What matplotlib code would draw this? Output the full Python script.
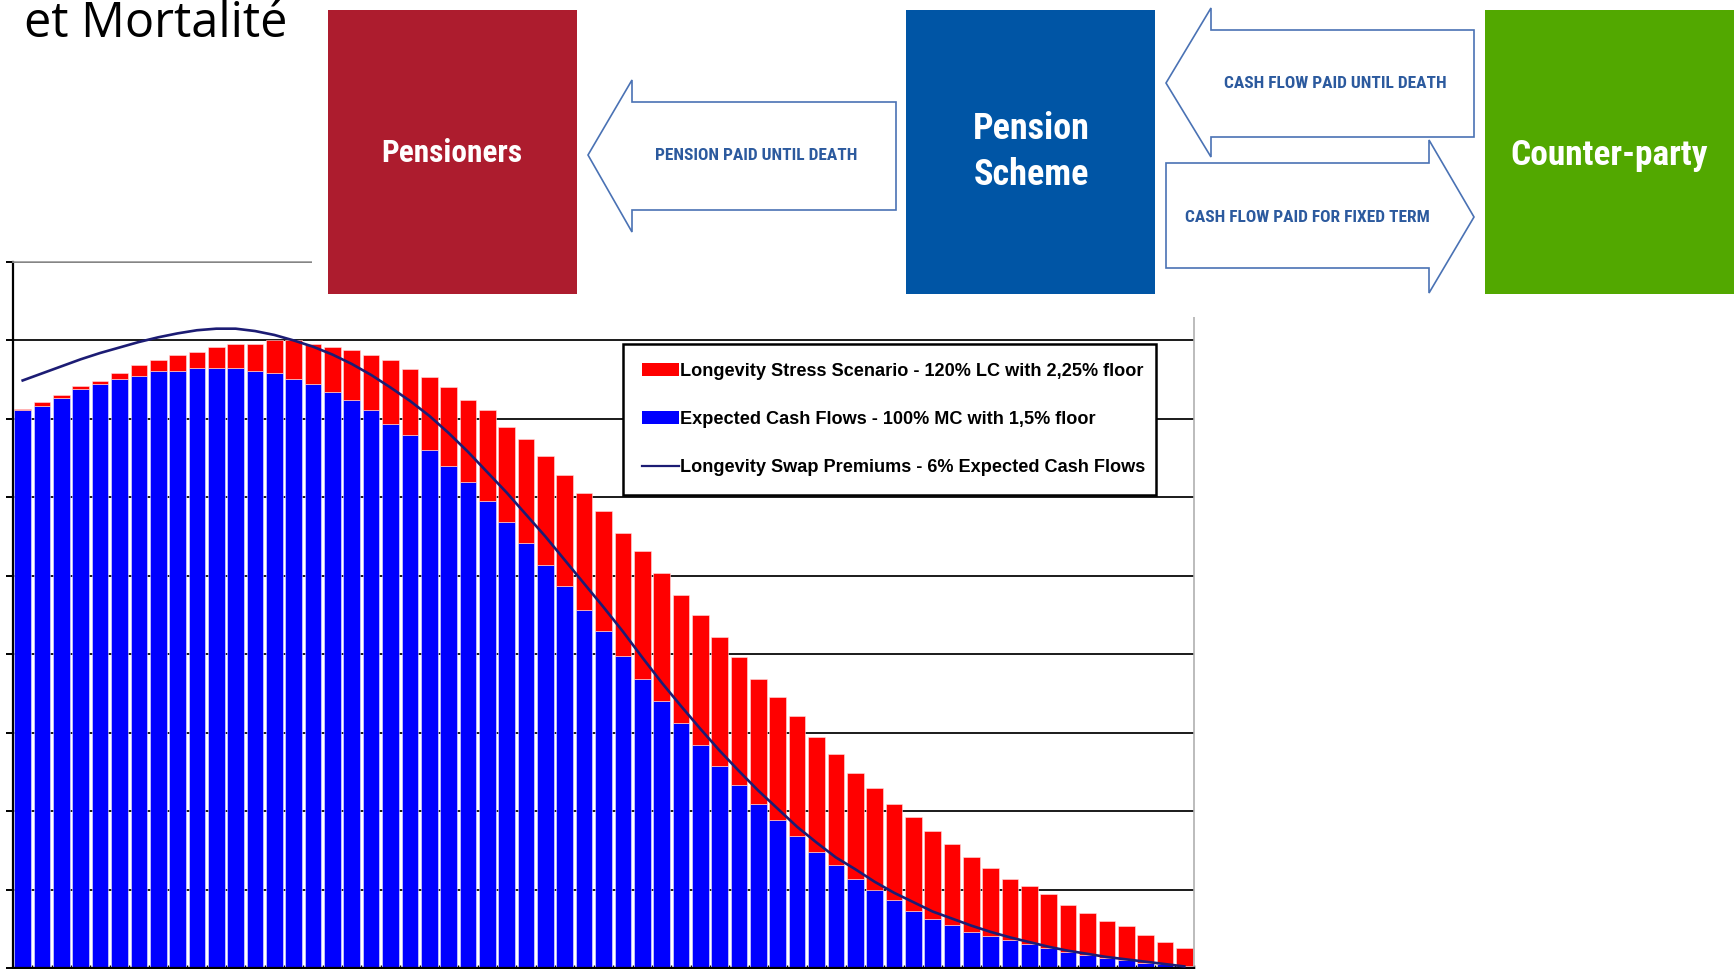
#import necessary packages
import numpy as np
import matplotlib
matplotlib.use('Agg')
import matplotlib.pyplot as plt
from matplotlib.patches import Rectangle, Polygon, Patch
from matplotlib.lines import Line2D
from matplotlib import font_manager as fm

#cash flow values (one bar per year, gridline = 10 units)
expected = [71.1, 71.7, 72.7, 73.8, 74.4, 75.1, 75.5, 76.1, 76.1, 76.5,
            76.5, 76.5, 76.1, 75.9, 75.1, 74.5, 73.4, 72.4, 71.1, 69.4,
            68.0, 66.0, 64.0, 61.9, 59.5, 56.8, 54.2, 51.4, 48.7, 45.6,
            42.9, 39.8, 36.9, 34.1, 31.2, 28.4, 25.7, 23.3, 20.9, 18.9,
            16.8, 14.8, 13.1, 11.4, 10.0, 8.7, 7.3, 6.2, 5.5, 4.6,
            4.1, 3.6, 3.1, 2.6, 2.1, 1.7, 1.3, 1.0, 0.7, 0.5, 0.3]
stress = [71.2, 72.1, 73.1, 74.2, 74.8, 75.9, 76.9, 77.5, 78.2, 78.5,
          79.2, 79.5, 79.5, 80.0, 80.0, 79.5, 79.2, 78.8, 78.2, 77.5,
          76.4, 75.4, 74.1, 72.4, 71.1, 69.0, 67.4, 65.3, 62.9, 60.6,
          58.2, 55.4, 53.1, 50.4, 47.6, 45.0, 42.2, 39.6, 36.9, 34.5,
          32.1, 29.4, 27.3, 24.9, 22.9, 20.9, 19.2, 17.5, 15.8, 14.1,
          12.8, 11.4, 10.4, 9.4, 8.0, 7.0, 6.0, 5.4, 4.2, 3.3, 2.6]
premiums = [74.9, 75.8, 76.7, 77.6, 78.4, 79.1, 79.8, 80.4, 80.9, 81.3,
            81.5, 81.5, 81.2, 80.7, 80.0, 79.2, 78.2, 77.0, 75.6, 74.0,
            72.3, 70.4, 68.2, 65.8, 63.2, 60.6, 57.8, 55.0, 52.0, 49.0,
            46.0, 42.9, 39.6, 36.4, 33.4, 30.5, 27.7, 25.1, 22.6, 20.3,
            18.0, 16.0, 14.1, 12.6, 11.0, 9.6, 8.4, 7.2, 6.3, 5.4,
            4.6, 3.9, 3.3, 2.7, 2.2, 1.8, 1.4, 1.1, 0.8, 0.5, 0.2]

labels = ['Longevity Stress Scenario - 120% LC with 2,25% floor',
          'Expected Cash Flows - 100% MC with 1,5% floor',
          'Longevity Swap Premiums - 6% Expected Cash Flows']

title_text = 'et Mortalité'
box_names = ['Pensioners', 'Pension\nScheme', 'Counter-party']
arrow_texts = ['PENSION PAID UNTIL DEATH', 'CASH FLOW PAID UNTIL DEATH',
               'CASH FLOW PAID FOR FIXED TERM']

#pick a narrow font if there is one
names = {f.name for f in fm.fontManager.ttflist}
narrow = 'Liberation Sans'
shrink = 0.82
for cand in ['Roboto Condensed', 'Liberation Sans Narrow', 'DejaVu Sans Condensed']:
    if cand in names:
        narrow = cand
        shrink = 1.0
        break

W, H = 1734, 969
fig = plt.figure(figsize=(W / 100, H / 100), dpi=100)
fig.patch.set_facecolor('white')

#the bar chart
ax = fig.add_axes([13 / W, 1 / H, (1194 - 13) / W, (968 - 262) / H])
x = np.arange(len(expected))
red_part = np.array(stress) - np.array(expected)
ax.bar(x, expected, width=0.86, color='#0000ff', edgecolor='#e8e8ff', linewidth=0.4, zorder=2)
ax.bar(x, red_part, bottom=expected, width=0.86, color='#ff0000', edgecolor='#ffe0e0', linewidth=0.4, zorder=2)
ax.plot(x, premiums, '-', color='#1c1c74', linewidth=1.9, zorder=3)

ax.set_xlim(-0.5, len(expected) - 0.5)
ax.set_ylim(0, 90)
ax.set_yticks(np.arange(0, 91, 10))
ax.set_yticklabels([])
ax.set_xticks(np.arange(len(expected) + 1) - 0.5)
ax.set_xticklabels([])
ax.tick_params(axis='y', direction='out', length=5, width=1.4, color='black')
ax.tick_params(axis='x', direction='inout', length=5, width=1.0, color='black')
ax.set_axisbelow(True)
ax.grid(axis='y', color='#1a1a1a', linewidth=1.4)
ax.spines['left'].set_linewidth(1.6)
ax.spines['left'].set_color('black')
ax.spines['bottom'].set_linewidth(1.6)
ax.spines['top'].set_color('#9a9a9a')
ax.spines['top'].set_linewidth(1.2)
ax.spines['right'].set_color('#b0b0b0')
ax.spines['right'].set_linewidth(1.2)

handles = [Patch(facecolor='#ff0000', edgecolor='none'),
           Patch(facecolor='#0000ff', edgecolor='none'),
           Line2D([0], [0], color='#1c1c74', linewidth=1.6)]
leg = ax.legend(handles, labels, loc='upper left',
                bbox_to_anchor=(623 / W, 1 - 493 / H, 533 / W, 149 / H),
                bbox_transform=fig.transFigure, mode='expand',
                prop={'family': 'Liberation Sans', 'weight': 'bold', 'size': 13.1},
                handlelength=2.05, handletextpad=0.05, labelspacing=1.7,
                borderpad=1.05, borderaxespad=0, fancybox=False, framealpha=1)
leg.get_frame().set_edgecolor('black')
leg.get_frame().set_linewidth(1.8)

#diagram on top, in pixel coordinates
top = fig.add_axes([0, 0, 1, 1], zorder=5)
top.set_xlim(0, W)
top.set_ylim(H, 0)
top.axis('off')
top.patch.set_visible(False)

#white background of the diagram hides the top of the chart
top.add_patch(Rectangle((312, 0), W - 312, 317, facecolor='white', edgecolor='none'))

top.text(24, 37, title_text, family='Open Sans', fontsize=35, va='baseline', ha='left', color='black')

boxes = [(328, 577, '#ad1c2e'), (906, 1155, '#0055a5'), (1485, 1734, '#52a800')]
for (x0, x1, c), name in zip(boxes, box_names):
    top.add_patch(Rectangle((x0, 10), x1 - x0, 284, facecolor=c, edgecolor='none'))

top.text(452, 153, box_names[0], family=narrow, weight='bold', fontsize=22.5 * shrink,
         color='white', ha='center', va='center')
top.text(1031, 152, box_names[1], family=narrow, weight='bold', fontsize=26 * shrink,
         color='white', ha='center', va='center', linespacing=1.35)
top.text(1609, 155, box_names[2], family=narrow, weight='bold', fontsize=25.5 * shrink,
         color='white', ha='center', va='center')

edge = '#4a72b4'
arrows = [
    [(588, 155), (632, 80), (632, 102), (896, 102), (896, 210), (632, 210), (632, 232)],
    [(1166, 83), (1211, 8), (1211, 30), (1474, 30), (1474, 137), (1211, 137), (1211, 157)],
    [(1166, 163), (1429, 163), (1429, 140), (1474, 217), (1429, 293), (1429, 268), (1166, 268)],
]
for pts in arrows:
    top.add_patch(Polygon(pts, closed=True, facecolor='white', edgecolor=edge, linewidth=1.2))

txt_color = '#2c5a9e'
top.text(756, 155, arrow_texts[0], family=narrow, weight='bold', fontsize=12.5 * shrink,
         color=txt_color, ha='center', va='center')
top.text(1335, 83, arrow_texts[1], family=narrow, weight='bold', fontsize=12.5 * shrink,
         color=txt_color, ha='center', va='center')
top.text(1307, 217, arrow_texts[2], family=narrow, weight='bold', fontsize=12.5 * shrink,
         color=txt_color, ha='center', va='center')

plt.savefig('out.png', dpi=100)
